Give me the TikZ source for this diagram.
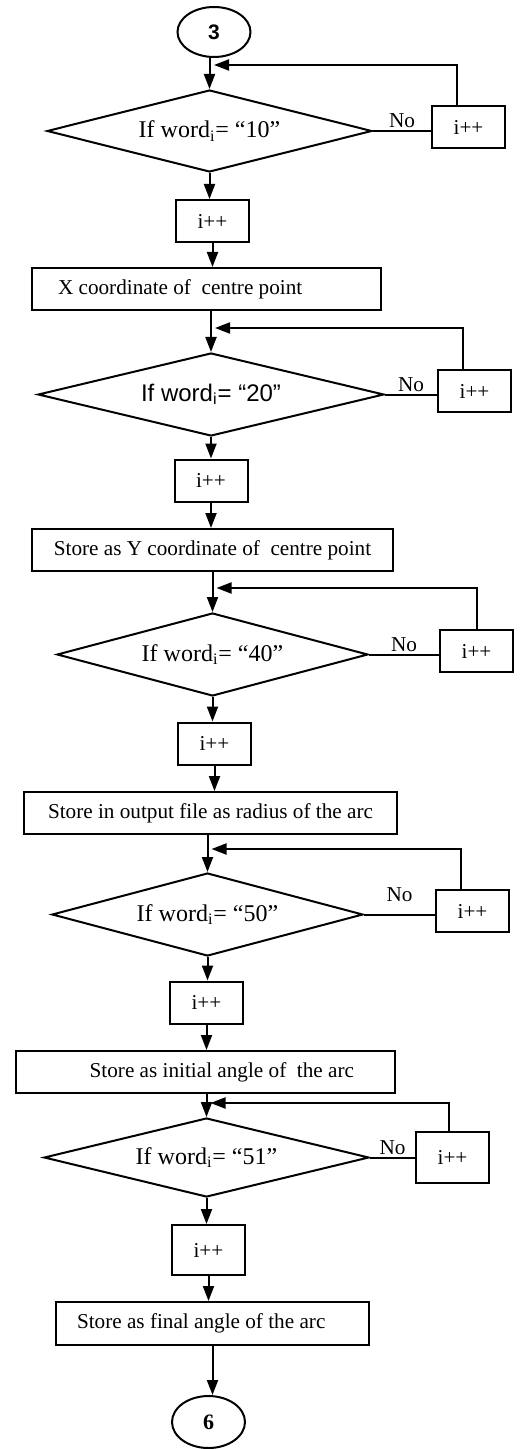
\documentclass[tikz,border=0pt]{standalone}
\usepackage{fontspec}
\setmainfont{Liberation Serif}
\newfontfamily\arialfont{Liberation Sans}
\usetikzlibrary{shapes.geometric, arrows.meta}

\begin{document}
\begin{tikzpicture}[x=0.5pt, y=-0.5pt, line width=1pt, >={Triangle[length=7.5pt,width=5.5pt]}, font=\fontsize{10.6}{12}\selectfont]
    \tikzstyle{terminal}=[ellipse, draw, inner sep=0pt, minimum width=36.5pt, minimum height=25pt]
    \tikzstyle{decision}=[diamond, draw, aspect=4, inner sep=0pt, font=\fontsize{12}{14}\selectfont]
    \tikzstyle{counter}=[rectangle, draw, inner sep=0pt, minimum width=36.5pt, minimum height=21pt]
    \tikzstyle{store}=[rectangle, draw, inner sep=0pt, minimum height=21pt]
    \tikzstyle{no label}=[above, inner sep=1pt]

    \useasboundingbox (0,0) rectangle (519,1449);

    % Draw the connectors at top and bottom
    \node[terminal, font={\fontsize{10.5}{12}\arialfont\bfseries}] (start) at (214,32) {3};
    \node[terminal, minimum height=26pt, font={\fontsize{11}{12}\selectfont\bfseries}] (end) at (208.5,1422) {6};

    % Draw the decisions
    \node[decision, minimum width=162.5pt, minimum height=41pt] (D-1) at (209.5,131) {If word\textsubscript{i}= “10”};
    \node[decision, minimum width=173pt, minimum height=41.5pt, font={\fontsize{12}{14}\arialfont}] (D-2) at (211,394.5) {If word\textsubscript{i}= “20”};
    \node[decision, minimum width=155.5pt, minimum height=41.5pt] (D-3) at (212.5,654.5) {If word\textsubscript{i}= “40”};
    \node[decision, minimum width=155.5pt, minimum height=41.5pt] (D-4) at (207.5,914.5) {If word\textsubscript{i}= “50”};
    \node[decision, minimum width=162.5pt, minimum height=39.5pt] (D-5) at (206.5,1157.5) {If word\textsubscript{i}= “51”};

    % Draw the counters beside the decisions
    \foreach \name/\x/\y in {1/468.5/127.5, 2/474.5/391, 3/476.5/651, 4/472.5/911}
        \node[counter] (P-\name) at (\x,\y) {i++};
    \node[counter, minimum height=25.5pt] (P-5) at (452.5,1157.5) {i++};

    % Draw the counters below the decisions
    \foreach \name/\x/\y in {1/212.5/221, 2/211/480.5, 3/214.5/743.5, 4/206.5/1002.5}
        \node[counter] (I-\name) at (\x,\y) {i++};
    \node[counter, minimum height=25pt] (I-5) at (208.5,1250) {i++};

    % Draw the store steps
    \node[store, text width=148.5pt, inner xsep=13pt, align=flush left] (W-1) at (206.5,289) {X coordinate of \ centre point};
    \node[store, minimum width=180.5pt] (W-2) at (212.5,550) {Store as Y coordinate of \ centre point};
    \node[store, minimum width=186.5pt] (W-3) at (210.5,813) {Store in output file as radius of the arc};
    \node[store, text width=148.5pt, inner xsep=20.5pt, align=flush right] (W-4) at (205.5,1072) {Store as initial angle of \ the arc};
    \node[store, text width=135.5pt, inner xsep=10.5pt, align=flush left, minimum height=21.5pt] (W-5) at (212.5,1323.5) {Store as final angle of the arc};

    % Points where the loops come back
    \foreach \name/\lx/\ly/\jx in {1/457/65/214, 2/463/328/215, 3/477/588/216.5, 4/461/849/211.5, 5/449/1103/210.5} {
        \coordinate (J-\name) at (\jx,\ly);
        \coordinate (L-\name) at (\lx,\ly);
    }

    % Connect the chain from top to bottom
    \foreach \source/\dest in {start/D-1, W-1/D-2, W-2/D-3, W-3/D-4, W-4/D-5}
        \draw[->] (\dest.north |- \source.south) -- (\dest.north);
    \foreach \source/\dest in {D-1/I-1, I-1/W-1, D-2/I-2, I-2/W-2, D-3/I-3, I-3/W-3, D-4/I-4, I-4/W-4, D-5/I-5, I-5/W-5, W-5/end}
        \draw[->] (\source.south) -- (\source.south |- \dest.north);

    % Connect every decision with its counter and back
    \foreach \name in {1,2,3,5}
        \draw (D-\name.east) -- node[no label] {No} (D-\name.east -| P-\name.west);
    \draw (D-4.east) -- node[no label, above=5pt] {No} (D-4.east -| P-4.west);
    \foreach \name in {1,...,5}
        \draw[->] (P-\name.north -| L-\name) |- (J-\name);

\end{tikzpicture}
\end{document}
